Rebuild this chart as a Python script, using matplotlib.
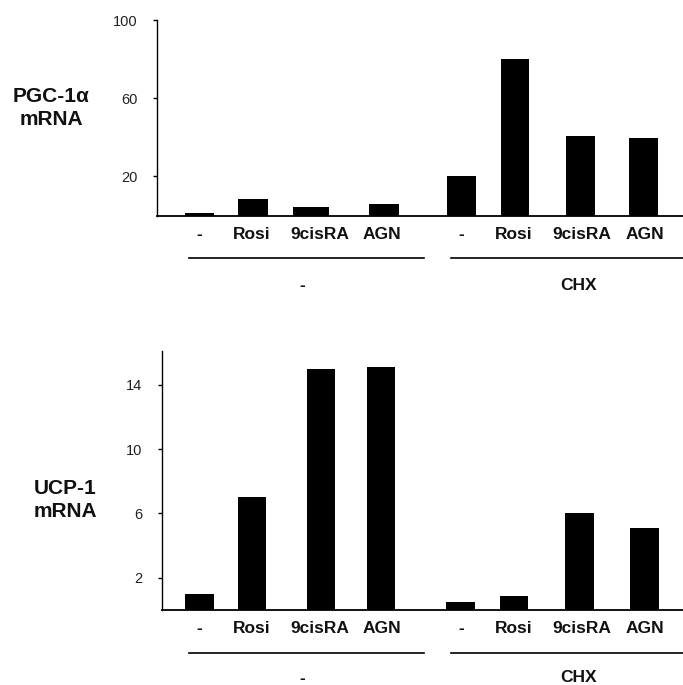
import matplotlib
matplotlib.use("Agg")
import matplotlib.pyplot as plt
from matplotlib.lines import Line2D

plt.rcParams['font.family'] = ['Liberation Sans', 'DejaVu Sans']

# data
treatments = ['-', 'Rosi', '9cisRA', 'AGN', '-', 'Rosi', '9cisRA', 'AGN']
groups = ['-', 'CHX']
pgc_values = [1.5, 8.3, 4.3, 5.8, 20, 80, 40.5, 39.5]
ucp_values = [1.0, 7.0, 15.0, 15.1, 0.5, 0.85, 6.0, 5.1]
pgc_ticks = [20, 60, 100]
ucp_ticks = [2, 6, 10, 14]

# layout (x positions in pixels on a 683 px wide canvas)
W, H = 683, 685
pgc_pos = [199.5, 253, 311, 384, 461.5, 515, 580.5, 643.5]
pgc_width = [29, 30, 36, 30, 29, 28, 29, 29]
ucp_pos = [199.5, 252, 321, 381, 460.5, 514, 579.5, 644.5]
ucp_width = 28.5
label_pos = [199, 252, 320, 382, 461, 514, 582, 645]

fig = plt.figure(figsize=(W / 100, H / 100), dpi=100)


def px(x, y):
    return x / W, 1 - y / H


def panel(left, top, bottom, ylim, values, pos, width, ticks, ylabel, ylab_xy, group_y):
    ax = fig.add_axes([left / W, 1 - bottom / H, 1 - left / W, (bottom - top) / H])
    ax.bar(pos, values, width=width, color='black', linewidth=0)
    ax.set_xlim(left, W)
    ax.set_ylim(0, ylim)
    ax.set_yticks(ticks)
    ax.set_yticklabels([str(t) for t in ticks], fontsize=10.5, color='#222222')
    ax.tick_params(axis='y', length=3, width=1, pad=11)
    ax.set_xticks(label_pos)
    ax.set_xticklabels(treatments, fontsize=12.5, fontweight='bold', color='#111111')
    ax.tick_params(axis='x', length=0, pad=8)
    for s in ['top', 'right']:
        ax.spines[s].set_visible(False)
    ax.spines['left'].set_linewidth(1.0)
    ax.spines['bottom'].set_linewidth(1.3)
    # y label
    x, y = px(*ylab_xy)
    fig.text(x, y, ylabel, ha='center', va='center', fontsize=15, fontweight='bold',
             linespacing=1.3, color='#111111')
    # group lines and labels
    line_y, text_y = group_y
    for (x0, x1), (tx, lab) in zip([(189, 424), (451, 683)], [(302, groups[0]), (579, groups[1])]):
        a, b = px(x0, line_y)
        c, _ = px(x1, line_y)
        fig.add_artist(Line2D([a, c], [b, b], color='black', linewidth=1.2))
        u, v = px(tx, text_y)
        fig.text(u, v, lab, ha='center', va='center', fontsize=12.5, fontweight='bold',
                 color='#111111')
    return ax


panel(157, 20, 215.5, 100, pgc_values, pgc_pos, pgc_width, pgc_ticks,
      'PGC-1\u03b1\nmRNA', (51, 108), (258, 285))
panel(162, 351, 610, 16.1, ucp_values, ucp_pos, ucp_width, ucp_ticks,
      'UCP-1\nmRNA', (65, 500), (653, 678))

fig.savefig('out.png', dpi=100)
